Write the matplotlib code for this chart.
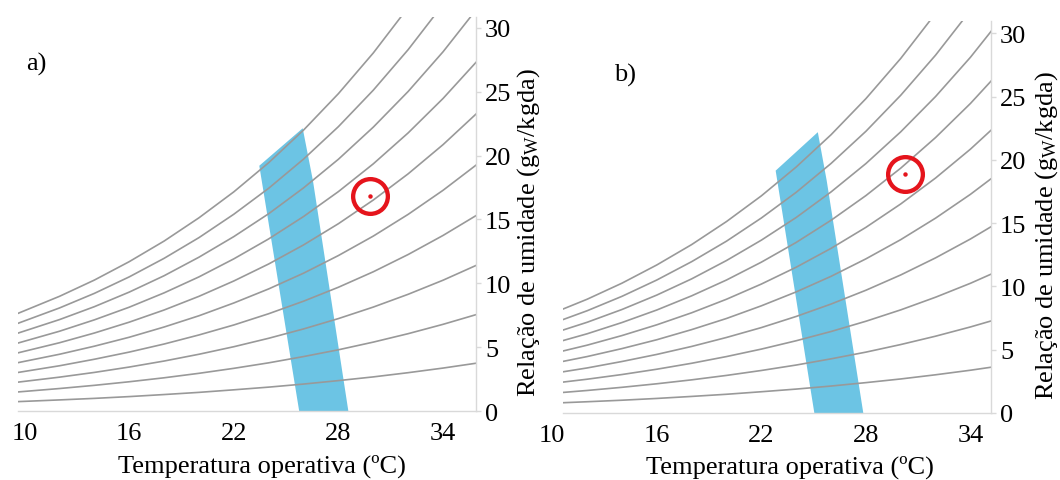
import matplotlib
matplotlib.use("Agg")
import matplotlib.pyplot as plt
from matplotlib.patches import Polygon, Rectangle

plt.rcParams['font.family'] = ['Liberation Serif', 'DejaVu Serif']
plt.rcParams['mathtext.fontset'] = 'custom'
plt.rcParams['mathtext.rm'] = 'Liberation Serif'
plt.rcParams['mathtext.it'] = 'Liberation Serif:italic'

# ---------------- data ----------------
temps = [9.5, 12, 14, 16, 18, 20, 22, 24, 26, 28, 30, 32, 34, 36]
rh_10 = [0.75, 0.89, 1.01, 1.15, 1.31, 1.48, 1.68, 1.89, 2.13, 2.40, 2.69, 3.02, 3.38, 3.78]
rh_20 = [1.50, 1.78, 2.03, 2.31, 2.62, 2.97, 3.36, 3.79, 4.28, 4.81, 5.41, 6.07, 6.80, 7.60]
rh_30 = [2.26, 2.67, 3.04, 3.46, 3.93, 4.46, 5.05, 5.71, 6.44, 7.25, 8.15, 9.15, 10.25, 11.47]
rh_40 = [3.01, 3.56, 4.07, 4.63, 5.26, 5.97, 6.75, 7.63, 8.61, 9.70, 10.91, 12.26, 13.75, 15.39]
rh_50 = [3.77, 4.46, 5.09, 5.79, 6.59, 7.47, 8.47, 9.57, 10.80, 12.18, 13.70, 15.40, 17.28, 19.36]
rh_60 = [4.53, 5.36, 6.12, 6.97, 7.92, 8.99, 10.19, 11.52, 13.01, 14.67, 16.52, 18.57, 20.85, 23.38]
rh_70 = [5.29, 6.26, 7.15, 8.14, 9.26, 10.51, 11.92, 13.48, 15.23, 17.18, 19.35, 21.77, 24.46, 27.45]
rh_80 = [6.06, 7.17, 8.18, 9.32, 10.60, 12.05, 13.66, 15.45, 17.47, 19.71, 22.22, 25.01, 28.11, 31.57]
rh_90 = [6.82, 8.08, 9.22, 10.51, 11.96, 13.58, 15.41, 17.44, 19.72, 22.26, 25.11, 28.28, 31.81, 35.74]
rh_100 = [7.59, 8.99, 10.26, 11.70, 13.31, 15.13, 17.16, 19.44, 21.99, 24.84, 28.02, 31.58, 35.54, 39.97]
rh_curves = [rh_10, rh_20, rh_30, rh_40, rh_50, rh_60, rh_70, rh_80, rh_90, rh_100]

# comfort zones (temperature, humidity ratio)
zone_a_t = [23.46, 25.95, 26.54, 28.57, 25.75]
zone_a_w = [19.20, 22.13, 18.01, 0.0, 0.0]
zone_b_t = [22.82, 25.24, 25.75, 27.85, 25.04]
zone_b_w = [19.15, 22.19, 18.36, 0.0, 0.0]

# measured points
point_a = (29.81, 16.81)
point_b = (30.25, 18.89)

x_ticks = [10, 16, 22, 28, 34]
y_ticks = [0, 5, 10, 15, 20, 25, 30]
x_label = 'Temperatura operativa (ºC)'
y_label = r'Relação de umidade (g$_{\mathrm{W}}$/kgda)'
panel_letters = ['a)', 'b)']

# ---------------- styling ----------------
CURVE = '#999999'
ZONE = '#6cc4e4'
RED = '#e5141c'
SPINE = '#d9d9d9'
FS = 19

W, H = 1060, 481
fig = plt.figure(figsize=(W / 100, H / 100), dpi=100)


def make_axes(px_left, px_right, px_top, px_bottom):
    return fig.add_axes([px_left / W, (H - px_bottom) / H,
                         (px_right - px_left) / W, (px_bottom - px_top) / H])


def draw_panel(ax, xlim, ylim, x_start, zone_t, zone_w, point, letter,
               letter_xy, ylab_x, xlab_x):
    ax.set_xlim(*xlim)
    ax.set_ylim(*ylim)
    clip = Rectangle((x_start, ylim[0]), xlim[1] - x_start, ylim[1] - ylim[0],
                     transform=ax.transData, facecolor='none', edgecolor='none')
    ax.add_patch(clip)
    ax.add_patch(Polygon(list(zip(zone_t, zone_w)), closed=True,
                         facecolor=ZONE, edgecolor='none', zorder=1))
    for curve in rh_curves:
        ln, = ax.plot(temps, curve, color=CURVE, lw=1.2, zorder=2)
        ln.set_clip_path(clip)
    ax.plot([point[0]], [point[1]], marker='o', ms=25, mfc='none',
            mec=RED, mew=3.1, zorder=4, clip_on=False)
    ax.plot([point[0]], [point[1]], marker='o', ms=3.2, color=RED,
            mec='none', zorder=5)

    for s in ['left', 'top']:
        ax.spines[s].set_visible(False)
    ax.spines['bottom'].set_color(SPINE)
    ax.spines['right'].set_color(SPINE)
    ax.spines['bottom'].set_linewidth(1.0)
    ax.spines['right'].set_linewidth(1.0)
    ax.spines['bottom'].set_bounds(x_start, xlim[1])

    ax.yaxis.tick_right()
    ax.yaxis.set_label_position('right')
    ax.set_xticks(x_ticks)
    ax.set_xticklabels([str(v) for v in x_ticks])
    ax.set_yticks(y_ticks)
    ax.set_yticklabels([str(v) for v in y_ticks])
    ax.tick_params(axis='x', length=0, pad=8, labelsize=FS, colors='black')
    ax.tick_params(axis='y', length=3.5, width=1, color=SPINE, pad=3,
                   labelsize=FS, labelcolor='black')
    ax.set_facecolor('none')

    ax.set_xlabel(x_label, fontsize=FS)
    ax.xaxis.set_label_coords(xlab_x, -0.137)
    ax.xaxis.label.set_va('center')
    ax.set_ylabel(y_label, fontsize=FS, rotation=90)
    ax.yaxis.set_label_coords(ylab_x, 0.455)
    ax.yaxis.label.set_va('center')
    ax.yaxis.label.set_ha('center')

    ax.text(letter_xy[0], letter_xy[1], letter, transform=ax.transAxes,
            fontsize=FS, ha='center', va='center')


ax_a = make_axes(18, 476, 18, 412.3)
draw_panel(ax_a, (9.62, 35.89), (0, 30.83), 9.62, zone_a_t, zone_a_w,
           point_a, panel_letters[0], (0.041, 0.883), 1.1157, 0.533)

ax_b = make_axes(552.3, 991, 21.7, 414)
draw_panel(ax_b, (10.0, 35.18), (0, 31.0), 10.6, zone_b_t, zone_b_w,
           point_b, panel_letters[1], (0.166, 0.864), 1.1277, 0.542)

fig.savefig('out.png', dpi=100)
